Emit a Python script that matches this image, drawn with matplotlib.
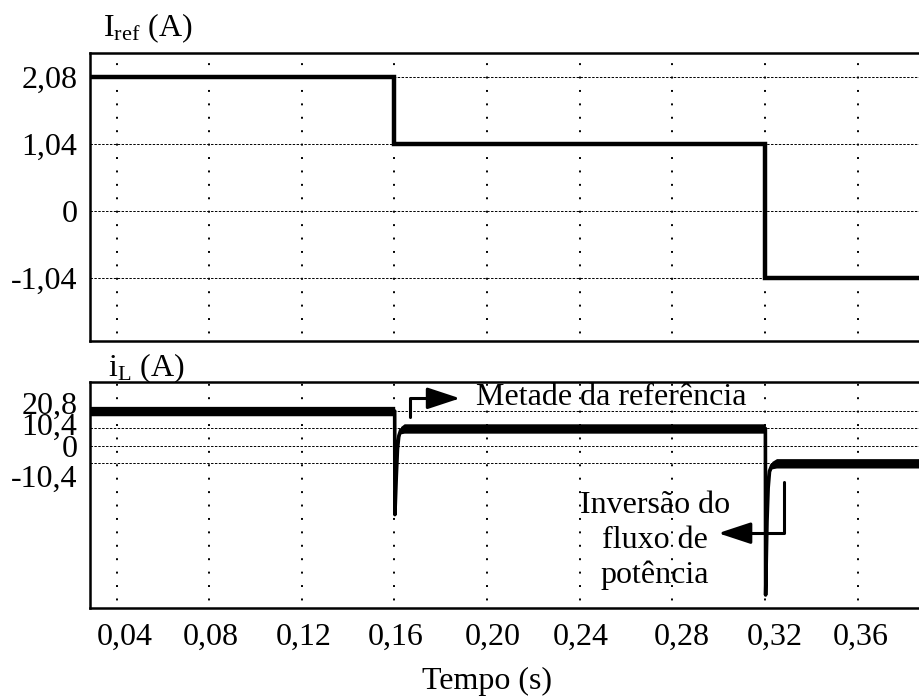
"""
Reference current and inductor current step response (Iref and iL).
"""

import matplotlib
matplotlib.use("Agg")
import matplotlib.pyplot as plt
from matplotlib.patches import ArrowStyle
from matplotlib.transforms import ScaledTranslation

# Reference current Iref (A): step at 0.16 s and 0.32 s
IREF_TIME = [0.0285, 0.16, 0.16, 0.32, 0.32, 0.40]
IREF_VALUE = [2.08, 2.08, 1.04, 1.04, -1.04, -1.04]

# Inductor current iL (A) with transients
IL_TIME = [0.0285, 0.1601, 0.1602, 0.1608, 0.1613, 0.1619, 0.1627, 0.1642,
           0.3202, 0.3203, 0.3209, 0.3214, 0.3220, 0.3230, 0.3250, 0.40]
IL_VALUE = [20.8, 20.8, -41.0, -18.0, -2.0, 6.0, 9.4, 10.4,
            10.4, -89.0, -45.0, -25.0, -15.0, -11.5, -10.4, -10.4]
IL_RIPPLE = [2.8, 2.8, 0.0, 0.5, 1.0, 1.5, 2.2, 2.8,
             2.8, 0.0, 0.3, 0.8, 1.4, 2.2, 2.8, 2.8]

X_TICKS = [0.04, 0.08, 0.12, 0.16, 0.20, 0.24, 0.28, 0.32, 0.36]
X_TICK_LABELS = ['0,04', '0,08', '0,12', '0,16', '0,20', '0,24', '0,28', '0,32', '0,36']
IREF_TICKS = [2.08, 1.04, 0, -1.04]
IREF_TICK_LABELS = ['2,08', '1,04', '0', '-1,04']
IL_TICKS = [20.8, 10.4, 0, -10.4]
IL_TICK_LABELS = ['20,8', '10,4', '0', '-10,4']

FONT = 'Liberation Serif'
FS = 23

plt.rcParams['font.family'] = [FONT, 'DejaVu Serif']
plt.rcParams['mathtext.fontset'] = 'custom'
plt.rcParams['mathtext.rm'] = FONT
plt.rcParams['mathtext.it'] = FONT + ':italic'


def style_axes(ax, yticks, ylabels):
    ax.set_xlim(0.0285, 0.40)
    ax.set_xticks(X_TICKS)
    ax.set_yticks(yticks)
    ax.set_yticklabels(ylabels, fontsize=FS)
    ax.tick_params(length=0, pad=9)
    ax.grid(axis='x', color='black', linestyle=(3, (1, 5.9)), linewidth=1.4)
    ax.grid(axis='y', color='black', linestyle=(0, (2.5, 1.5)), linewidth=0.7)
    ax.set_axisbelow(True)
    for sp in ax.spines.values():
        sp.set_linewidth(1.8)


def shift_labels(fig, labels, dx_list, dy_list):
    """Nudge tick labels by a few points (the original is not perfectly aligned)."""
    for lab, dx, dy in zip(labels, dx_list, dy_list):
        lab.set_transform(lab.get_transform() +
                          ScaledTranslation(dx / 72, dy / 72, fig.dpi_scale_trans))


fig = plt.figure(figsize=(9.19, 6.97), dpi=100)

# Top panel: reference current
ax1 = fig.add_axes([0.0979, 0.5107, 0.936, 0.4132])
ax1.plot(IREF_TIME, IREF_VALUE, color='black', linewidth=3.2, solid_joinstyle='miter')
ax1.set_ylim(-2.026, 2.458)
style_axes(ax1, IREF_TICKS, IREF_TICK_LABELS)
ax1.set_xticklabels([])
fig.text(103 / 919, 1 - 28 / 697, r'I$_{\mathrm{ref}}$ (A)', fontsize=FS,
         ha='left', va='center')

# Bottom panel: inductor current
ax2 = fig.add_axes([0.0979, 0.1281, 0.936, 0.3242])
low = [v - r for v, r in zip(IL_VALUE, IL_RIPPLE)]
high = [v + r for v, r in zip(IL_VALUE, IL_RIPPLE)]
ax2.fill_between(IL_TIME, low, high, color='black', linewidth=0)
ax2.plot(IL_TIME, IL_VALUE, color='black', linewidth=2.6, solid_joinstyle='round')
ax2.set_ylim(-96.6, 38.3)
style_axes(ax2, IL_TICKS, IL_TICK_LABELS)
ax2.set_xticklabels(X_TICK_LABELS, fontsize=FS)
ax2.tick_params(axis='x', pad=11)

shift_labels(fig, ax2.get_yticklabels(), [0, 0, 0, 0], [6, 3, 0, -9])
shift_labels(fig, ax2.get_xticklabels(),
             [6, 1, 1, 1, 4, 1, 7, 7, 2], [0] * 9)

fig.text(108 / 919, 1 - 368 / 697, r'i$_{\mathrm{L}}$ (A)', fontsize=FS,
         ha='left', va='center')
fig.text(487 / 919, 1 - 681 / 697, 'Tempo (s)', fontsize=FS, ha='center', va='center')

# Annotations
head = ArrowStyle('-|>', head_length=1.0, head_width=0.33)
ax2.annotate('', xy=(0.1883, 28.4), xytext=(0.1667, 17.4),
             arrowprops=dict(arrowstyle=head, mutation_scale=20, color='black',
                             linewidth=2.2, shrinkA=0, shrinkB=0,
                             connectionstyle='angle,angleA=90,angleB=0,rad=0'))
ax2.text(0.1952, 28.6, 'Metade da referência', fontsize=FS, ha='left', va='center')

ax2.annotate('', xy=(0.2998, -52.1), xytext=(0.3283, -21.4),
             arrowprops=dict(arrowstyle=head, mutation_scale=20, color='black',
                             linewidth=2.2, shrinkA=0, shrinkB=0,
                             connectionstyle='angle,angleA=90,angleB=0,rad=0'))
ax2.text(0.2726, -56.5, 'Inversão do\nfluxo de\npotência', fontsize=FS,
         ha='center', va='center', multialignment='center', linespacing=1.25)

fig.savefig('out.png', dpi=100)
